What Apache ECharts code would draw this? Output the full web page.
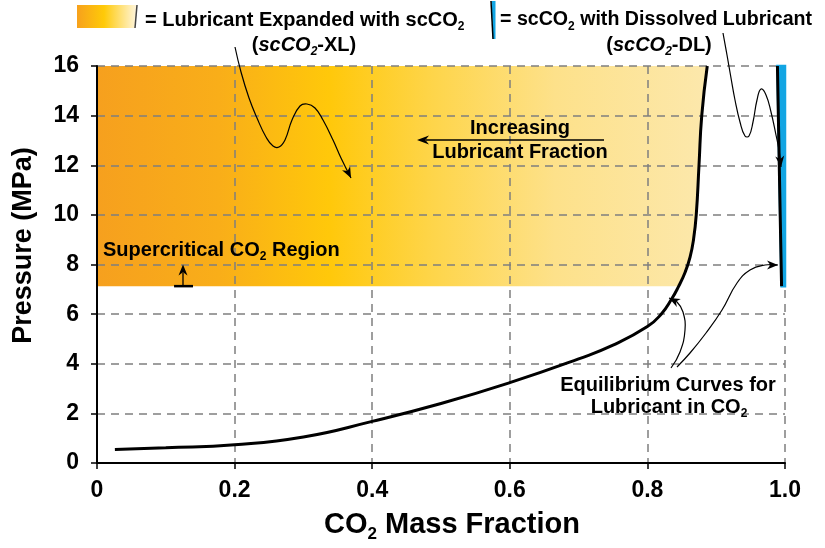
<!DOCTYPE html>
<html>
<head>
<meta charset="utf-8">
<script src="https://cdn.jsdelivr.net/npm/echarts@6/dist/echarts.min.js"></script>
<style>
html, body { margin: 0; padding: 0; background: #fff; }
#main { width: 825px; height: 548px; }
</style>
</head>
<body>
<div id="main"></div>
<script>
const FONT = '"Liberation Sans", Arial, Helvetica, sans-serif';

// Lubricant-rich equilibrium curve: CO2 mass fraction vs pressure (MPa)
const eqFraction = [0.026, 0.1, 0.2, 0.3, 0.4, 0.5, 0.6, 0.7, 0.75, 0.8, 0.82, 0.835, 0.845, 0.855, 0.862, 0.867, 0.871, 0.875, 0.879, 0.887];
const eqPressure = [0.55, 0.62, 0.74, 1.05, 1.68, 2.4, 3.24, 4.2, 4.75, 5.5, 6.0, 6.6, 7.1, 7.7, 8.3, 9.0, 10.0, 12.0, 14.0, 16.0];

// CO2-rich equilibrium curve (lubricant dissolved in scCO2)
const dlFraction = [0.995, 0.993, 0.991, 0.989];
const dlPressure = [7.13, 10.0, 13.0, 16.0];

// Supercritical pressure bound and top of the plotted range
const scPressure = 7.13;
const topPressure = 16;

// Axis tick labels
const xTickLabels = ['0', '0.2', '0.4', '0.6', '0.8', '1.0'];
const yTickLabels = ['0', '2', '4', '6', '8', '10', '12', '14', '16'];

const eqData = eqFraction.map((x, i) => [x, eqPressure[i]]);
const dlData = dlFraction.map((x, i) => [x, dlPressure[i]]);

// Boundary of the scCO2-XL region: the equilibrium curve above the supercritical bound
function xlBoundary() {
  const pts = [];
  for (let i = 1; i < eqData.length; i++) {
    const [x0, y0] = eqData[i - 1];
    const [x1, y1] = eqData[i];
    if (y0 < scPressure && y1 >= scPressure) {
      const t = (scPressure - y0) / (y1 - y0);
      pts.push([x0 + t * (x1 - x0), scPressure]);
    }
    if (y1 >= scPressure) pts.push([x1, y1]);
  }
  return pts;
}
const xlEdge = xlBoundary();

const chart = echarts.init(document.getElementById('main'));

const axisFont = { fontFamily: FONT, fontWeight: 'bold', color: '#000' };
const gridDash = { type: [8, 6], color: '#7f7f7f', width: 1.5 };

chart.setOption({
  animation: false,
  backgroundColor: '#fff',
  grid: { left: 97, right: 40, top: 66, bottom: 82 },
  xAxis: {
    type: 'value', min: 0, max: 1, interval: 0.2,
    axisLine: { lineStyle: { color: '#000', width: 2 } },
    axisTick: { length: 6, lineStyle: { color: '#000', width: 1.5 } },
    axisLabel: Object.assign({ fontSize: 23, margin: 16,
      formatter: v => xTickLabels[Math.round(v / 0.2)] }, axisFont),
    splitLine: { show: true, lineStyle: gridDash },
    name: 'CO{s|2} Mass Fraction',
    nameLocation: 'middle', nameGap: 34,
    nameTextStyle: Object.assign({ fontSize: 29, lineHeight: 36, padding: [0, 0, 0, 22],
      rich: { s: { fontSize: 17, fontWeight: 'bold', fontFamily: FONT, color: '#000', lineHeight: 14, verticalAlign: 'bottom' } } }, axisFont)
  },
  yAxis: {
    type: 'value', min: 0, max: 16, interval: 2,
    axisLine: { lineStyle: { color: '#000', width: 2 } },
    axisTick: { length: 6, lineStyle: { color: '#000', width: 1.5 } },
    axisLabel: Object.assign({ fontSize: 23, margin: 18,
      formatter: v => yTickLabels[Math.round(v / 2)] }, axisFont),
    splitLine: { show: true, lineStyle: gridDash },
    name: 'Pressure (MPa)',
    nameLocation: 'middle', nameGap: 60,
    nameTextStyle: Object.assign({ fontSize: 27, padding: [0, 0, 0, 38] }, axisFont)
  },
  series: [
    {
      // scCO2-XL region, shaded from lubricant-rich (left) to CO2-rich (right)
      type: 'custom', z: -1, silent: true,
      data: [0],
      renderItem: (params, api) => {
        const pts = [[0, scPressure], [0, topPressure]];
        for (let i = xlEdge.length - 1; i >= 0; i--) pts.push(xlEdge[i]);
        const px = pts.map(p => api.coord(p));
        const x0 = api.coord([0, 0])[0];
        const x1 = api.coord([xlEdge[xlEdge.length - 1][0], 0])[0];
        return {
          type: 'polygon',
          shape: { points: px },
          style: {
            fill: {
              type: 'linear', x: x0, y: 0, x2: x1, y2: 0, global: true,
              colorStops: [
                { offset: 0, color: '#F6A01E' },
                { offset: 0.2, color: '#F9AE19' },
                { offset: 0.38, color: '#FFC80A' },
                { offset: 0.55, color: '#FED54A' },
                { offset: 0.75, color: '#FDE18A' },
                { offset: 1, color: '#FCE8AC' }
              ]
            },
            stroke: null
          }
        };
      }
    },
    {
      // scCO2-DL band between the CO2-rich curve and pure CO2
      type: 'custom', z: 10, silent: true,
      data: [0],
      renderItem: (params, api) => {
        const pts = dlData.map(p => api.coord(p));
        pts.push(api.coord([1, dlPressure[dlPressure.length - 1]]));
        pts.push(api.coord([1, dlPressure[0]]));
        return { type: 'polygon', shape: { points: pts }, style: { fill: '#12A5E3', stroke: '#12A5E3', lineWidth: 2.5 } };
      }
    },
    {
      type: 'line', z: 11, data: eqData, smooth: 0.5,
      showSymbol: false, symbol: 'none',
      lineStyle: { color: '#000', width: 3 }
    },
    {
      type: 'line', z: 11, data: dlData, smooth: false,
      showSymbol: false, symbol: 'none',
      lineStyle: { color: '#000', width: 3 }
    }
  ]
});

// ---- annotations ----
const toPx = p => chart.convertToPixel({ gridIndex: 0 }, p);

function arrowHead(tip, from, len, half) {
  const dx = tip[0] - from[0], dy = tip[1] - from[1];
  const d = Math.hypot(dx, dy) || 1;
  const ux = dx / d, uy = dy / d, nx = -uy, ny = ux;
  const bx = tip[0] - ux * len, by = tip[1] - uy * len;
  const mx = tip[0] - ux * len * 0.7, my = tip[1] - uy * len * 0.7;
  return {
    type: 'polygon', silent: true, z: 100,
    shape: { points: [tip, [bx + nx * half, by + ny * half], [mx, my], [bx - nx * half, by - ny * half]] },
    style: { fill: '#000' }
  };
}

function curvedArrow(points, tip, width) {
  const all = points.concat([tip]);
  return [
    { type: 'polyline', silent: true, z: 100, shape: { points: all, smooth: 0.45 },
      style: { stroke: '#000', lineWidth: width || 1.2, fill: null } },
    arrowHead(tip, points[points.length - 1], 11, 4.5)
  ];
}

const baseText = { fontFamily: FONT, fontWeight: 'bold', fontSize: 20, fill: '#000', lineHeight: 26 };
function makeRich(size) {
  return {
    s: { fontFamily: FONT, fontWeight: 'bold', fontSize: 12, fill: '#000', lineHeight: 12, verticalAlign: 'bottom' },
    i: { fontFamily: FONT, fontWeight: 'bold', fontStyle: 'italic', fontSize: size, fill: '#000', lineHeight: 26 },
    is: { fontFamily: FONT, fontWeight: 'bold', fontStyle: 'italic', fontSize: 12, fill: '#000', lineHeight: 12, verticalAlign: 'bottom' }
  };
}
function label(text, x, y, align, size) {
  const fs = size || 20;
  return {
    type: 'text', silent: true, z: 100,
    style: Object.assign({}, baseText, { fontSize: fs, text: text, x: x, y: y, align: align || 'center', verticalAlign: 'middle', rich: makeRich(fs) })
  };
}

const graphics = [];

// legend swatches
graphics.push({
  type: 'polygon', silent: true, z: 100,
  shape: { points: [[77, 5], [137, 5], [135, 28], [77, 28]] },
  style: {
    fill: new echarts.graphic.LinearGradient(0, 0, 1, 0, [
      { offset: 0, color: '#F7A11C' },
      { offset: 0.45, color: '#FFCA08' },
      { offset: 1, color: '#FFF6E0' }
    ])
  }
});
graphics.push({ type: 'line', silent: true, z: 101, shape: { x1: 137, y1: 5, x2: 135, y2: 28 }, style: { stroke: '#444', lineWidth: 1.5 } });
graphics.push({
  type: 'polygon', silent: true, z: 100,
  shape: { points: [[491.5, 1], [495.5, 1], [495.5, 39], [493, 39]] },
  style: { fill: '#12A5E3' }
});
graphics.push({ type: 'line', silent: true, z: 101, shape: { x1: 491, y1: 1, x2: 493, y2: 39 }, style: { stroke: '#000', lineWidth: 1.5 } });

graphics.push(label('= Lubricant Expanded with scCO{s|2}', 145, 20, 'left'));
graphics.push(label('({i|scCO}{is|2}-XL)', 304, 45));
graphics.push(label('= scCO{s|2} with Dissolved Lubricant', 500, 20, 'left', 19.6));
graphics.push(label('({i|scCO}{is|2}-DL)', 659, 45));

// in-plot labels
graphics.push(label('Supercritical CO{s|2} Region', 103, 250, 'left'));
graphics.push(label('Increasing', 520, 128));
graphics.push(label('Lubricant Fraction', 520, 152));
graphics.push(label('Equilibrium Curves for', 668, 385));
graphics.push(label('Lubricant in CO{s|2}', 669, 407));

// "Increasing Lubricant Fraction" arrow
graphics.push({ type: 'line', silent: true, z: 100, shape: { x1: 426, y1: 140, x2: 604, y2: 140 }, style: { stroke: '#000', lineWidth: 1.5 } });
graphics.push(arrowHead([417, 140], [430, 140], 12, 4.5));

// supercritical bound marker
const scLeft = toPx([0.112, scPressure]);
const scRight = toPx([0.1395, scPressure]);
const scMid = toPx([0.125, scPressure]);
const scTip = toPx([0.125, 8]);
graphics.push({ type: 'line', silent: true, z: 100, shape: { x1: scLeft[0], y1: scLeft[1], x2: scRight[0], y2: scRight[1] }, style: { stroke: '#000', lineWidth: 2.5 } });
graphics.push({ type: 'line', silent: true, z: 100, shape: { x1: scMid[0], y1: scMid[1], x2: scTip[0], y2: scTip[1] + 8 }, style: { stroke: '#000', lineWidth: 1.3 } });
graphics.push(arrowHead([scTip[0], scTip[1]], [scTip[0], scTip[1] + 10], 11, 4.5));

// pointer arrows
graphics.push(...curvedArrow(
  [[235, 47], [241, 72], [249, 98], [257, 118], [266, 137], [273, 146], [279, 147], [285, 140], [292, 120], [300, 106], [307, 104], [315, 108], [323, 120], [333, 140], [341, 158]],
  [351, 178]));
graphics.push(...curvedArrow(
  [[723, 33], [727, 55], [731, 78], [735, 100], [740, 122], [745, 136], [749, 136], [753, 122], [757, 100], [761, 89], [766, 95], [771, 112], [776, 135], [779, 150]],
  [781, 167]));
graphics.push(...curvedArrow(
  [[671, 368], [680, 352], [685, 330], [683, 312], [677, 302]],
  [669, 298]));
graphics.push(...curvedArrow(
  [[677, 367], [690, 353], [706, 333], [722, 310], [737, 283], [750, 270], [765, 265]],
  [778, 265]));

chart.setOption({ graphic: { elements: graphics } });
</script>
</body>
</html>
